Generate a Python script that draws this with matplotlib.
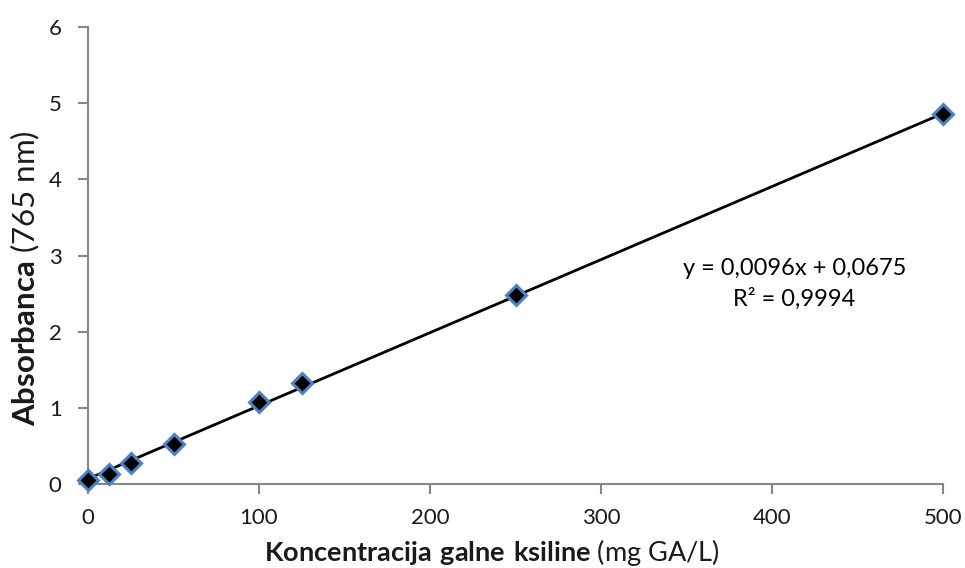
import numpy as np
import matplotlib
matplotlib.use("Agg")
import matplotlib.pyplot as plt

# calibration standards: gallic acid concentration vs absorbance
conc = [0, 12.5, 25, 50, 100, 125, 250, 500]
absorb = [0.05, 0.13, 0.27, 0.52, 1.07, 1.32, 2.48, 4.86]

slope = 0.0096
intercept = 0.0675
r2 = 0.9994

plt.rcParams['font.family'] = ['Lato', 'DejaVu Sans']
plt.rcParams['mathtext.fontset'] = 'custom'
plt.rcParams['mathtext.rm'] = 'Lato'
plt.rcParams['mathtext.bf'] = 'Lato:bold'

fig = plt.figure(figsize=(9.65, 5.68), dpi=100)
ax = fig.add_axes([0.0912, 0.148, 0.886, 0.804])

grey = '#868686'

xfit = np.array([0, 500])
ax.plot(xfit, slope * xfit + intercept, color='black', lw=2.0, zorder=3, clip_on=False)
ax.plot(conc, absorb, linestyle='none', marker='D', markersize=10,
        markerfacecolor='black', markeredgecolor='#4F81BD', markeredgewidth=2.2,
        zorder=4, clip_on=False)

ax.text(413, 2.83, 'y = 0,0096x + 0,0675', ha='center', va='center', fontsize=17)
ax.text(413, 2.43, 'R² = 0,9994', ha='center', va='center', fontsize=17)

ax.set_xlim(0, 500)
ax.set_ylim(0, 6)
ax.set_xticks([0, 100, 200, 300, 400, 500])
ax.set_yticks([0, 1, 2, 3, 4, 5, 6])

for s in ['top', 'right']:
    ax.spines[s].set_visible(False)
for s in ['left', 'bottom']:
    ax.spines[s].set_color(grey)
    ax.spines[s].set_linewidth(1.5)

ax.tick_params(axis='both', color=grey, width=1.5, length=7, labelsize=16,
               labelcolor='#1a1a1a')
ax.tick_params(axis='x', pad=10)
ax.tick_params(axis='y', pad=12)

ax.set_xlabel(r'$\bf{Koncentracija\ galne\ ksiline}$ (mg GA/L)', fontsize=19.5,
              color='#1a1a1a')
ax.set_ylabel(r'$\bf{Absorbanca}$ (765 nm)', fontsize=22.5, color='#1a1a1a')
ax.xaxis.set_label_coords(0.472, -0.117)
ax.yaxis.set_label_coords(-0.054, 0.45)

fig.savefig('out.png', dpi=100)
